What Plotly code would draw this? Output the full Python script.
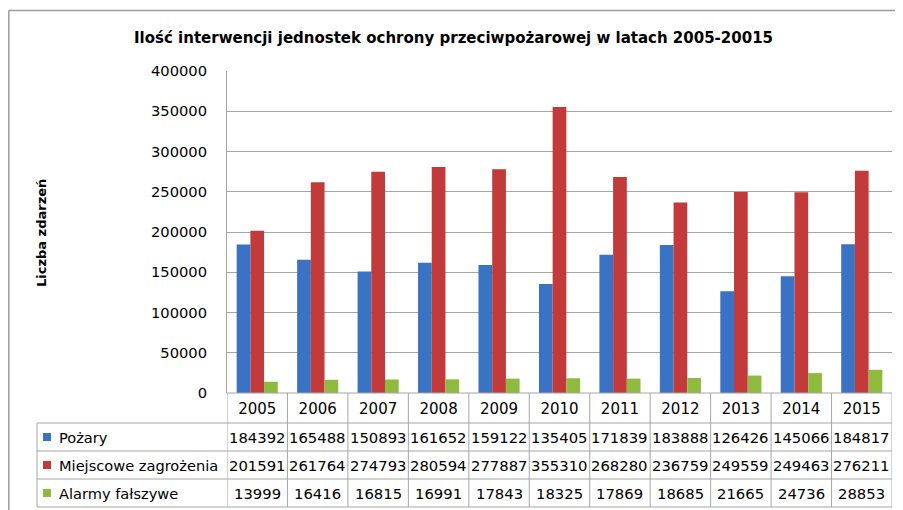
import plotly.graph_objects as go

years = ["2005", "2006", "2007", "2008", "2009", "2010", "2011", "2012", "2013", "2014", "2015"]
pozary = [184392, 165488, 150893, 161652, 159122, 135405, 171839, 183888, 126426, 145066, 184817]
miejscowe = [201591, 261764, 274793, 280594, 277887, 355310, 268280, 236759, 249559, 249463, 276211]
alarmy = [13999, 16416, 16815, 16991, 17843, 18325, 17869, 18685, 21665, 24736, 28853]
series_names = ["Pożary", "Miejscowe zagrożenia", "Alarmy fałszywe"]
series_colors = ["#3a72c4", "#c23a3a", "#8fba40"]
title_text = "Ilość interwencji jednostek ochrony przeciwpożarowej w latach 2005-20015"
ytitle_text = "Liczba zdarzeń"

# page body has an 8px margin; lay out in reference pixel coordinates, offset by it
OFF = 8
W, H = 903 - OFF, 510 - OFF
L, R, T, B = 227, 892, 71, 393  # plot area in reference px

def px(x):
    return (x - L) / (R - L)

def py(y):
    return (B - y) / (B - T)

series = [pozary, miejscowe, alarmy]
fig = go.Figure()
for name, vals, col in zip(series_names, series, series_colors):
    fig.add_trace(go.Bar(x=years, y=vals, name=name, marker=dict(color=col, line=dict(width=0))))

FONT = "DejaVu Sans"
grid = "#a6a6a6"
fig.update_layout(
    width=W, height=H,
    margin=dict(l=L - OFF, r=903 - R, t=T - OFF, b=510 - B, pad=0),
    paper_bgcolor="white", plot_bgcolor="white",
    barmode="group", bargap=0.32, bargroupgap=0,
    showlegend=False,
    font=dict(family=FONT, size=15, color="#000000"),
    xaxis=dict(type="category", range=[-0.5, 10.5], showgrid=False, showline=False,
               ticks="", tickfont=dict(family=FONT, size=15), ticklabelstandoff=5, zeroline=False),
    yaxis=dict(range=[0, 400000], dtick=50000, showgrid=True, gridcolor=grid, gridwidth=1,
               showline=True, linecolor=grid, linewidth=1, zeroline=False,
               tickfont=dict(family=FONT, size=14.7), ticklabelstandoff=16, tickformat="d"),
)

shapes = []
line = dict(color=grid, width=1)
shapes.append(dict(type="line", xref="paper", yref="paper", x0=0, x1=1, y0=0, y1=0, line=line))
for yy in [423, 451, 479, 507]:
    shapes.append(dict(type="line", xref="paper", yref="paper", x0=px(37), x1=1, y0=py(yy), y1=py(yy), line=line))
for i in range(len(years) + 1):
    shapes.append(dict(type="line", xref="x", yref="paper", x0=i - 0.5, x1=i - 0.5, y0=0, y1=py(507), line=line))
shapes.append(dict(type="line", xref="paper", yref="paper", x0=px(37), x1=px(37), y0=py(423), y1=py(507), line=line))
# outer chart frame (left and top edges visible in the reference)
frame = dict(color="#9c9c9c", width=1.5)
shapes.append(dict(type="line", xref="paper", yref="paper", x0=px(8.8), x1=px(8.8), y0=py(10.5), y1=py(512), line=frame))
shapes.append(dict(type="line", xref="paper", yref="paper", x0=px(8.8), x1=px(903), y0=py(10.5), y1=py(10.5), line=frame))

annotations = []
row_centers = [437, 465, 493]
for r, (name, vals, col) in enumerate(zip(series_names, series, series_colors)):
    yc = row_centers[r]
    shapes.append(dict(type="rect", xref="paper", yref="paper", x0=px(43), x1=px(51), y0=py(yc - 4), y1=py(yc + 4),
                       fillcolor=col, line=dict(width=0)))
    annotations.append(dict(text=name, xref="paper", yref="paper", x=px(57), y=py(yc), xanchor="left", yanchor="middle",
                            showarrow=False, font=dict(family=FONT, size=14.6)))
    for i, v in enumerate(vals):
        annotations.append(dict(text=str(v), xref="x", yref="paper", x=i, y=py(yc), xanchor="center", yanchor="middle",
                                showarrow=False, font=dict(family=FONT, size=14.8)))

annotations.append(dict(text="<b>" + title_text + "</b>", xref="paper", yref="paper", x=px(453), y=py(38),
                        xanchor="center", yanchor="middle", showarrow=False, font=dict(family=FONT, size=15)))
annotations.append(dict(text="<b>" + ytitle_text + "</b>", xref="paper", yref="paper", x=px(42), y=py(233),
                        xanchor="center", yanchor="middle", textangle=-90, showarrow=False, font=dict(family=FONT, size=13)))

fig.update_layout(shapes=shapes, annotations=annotations)
fig.write_html("out.html")
